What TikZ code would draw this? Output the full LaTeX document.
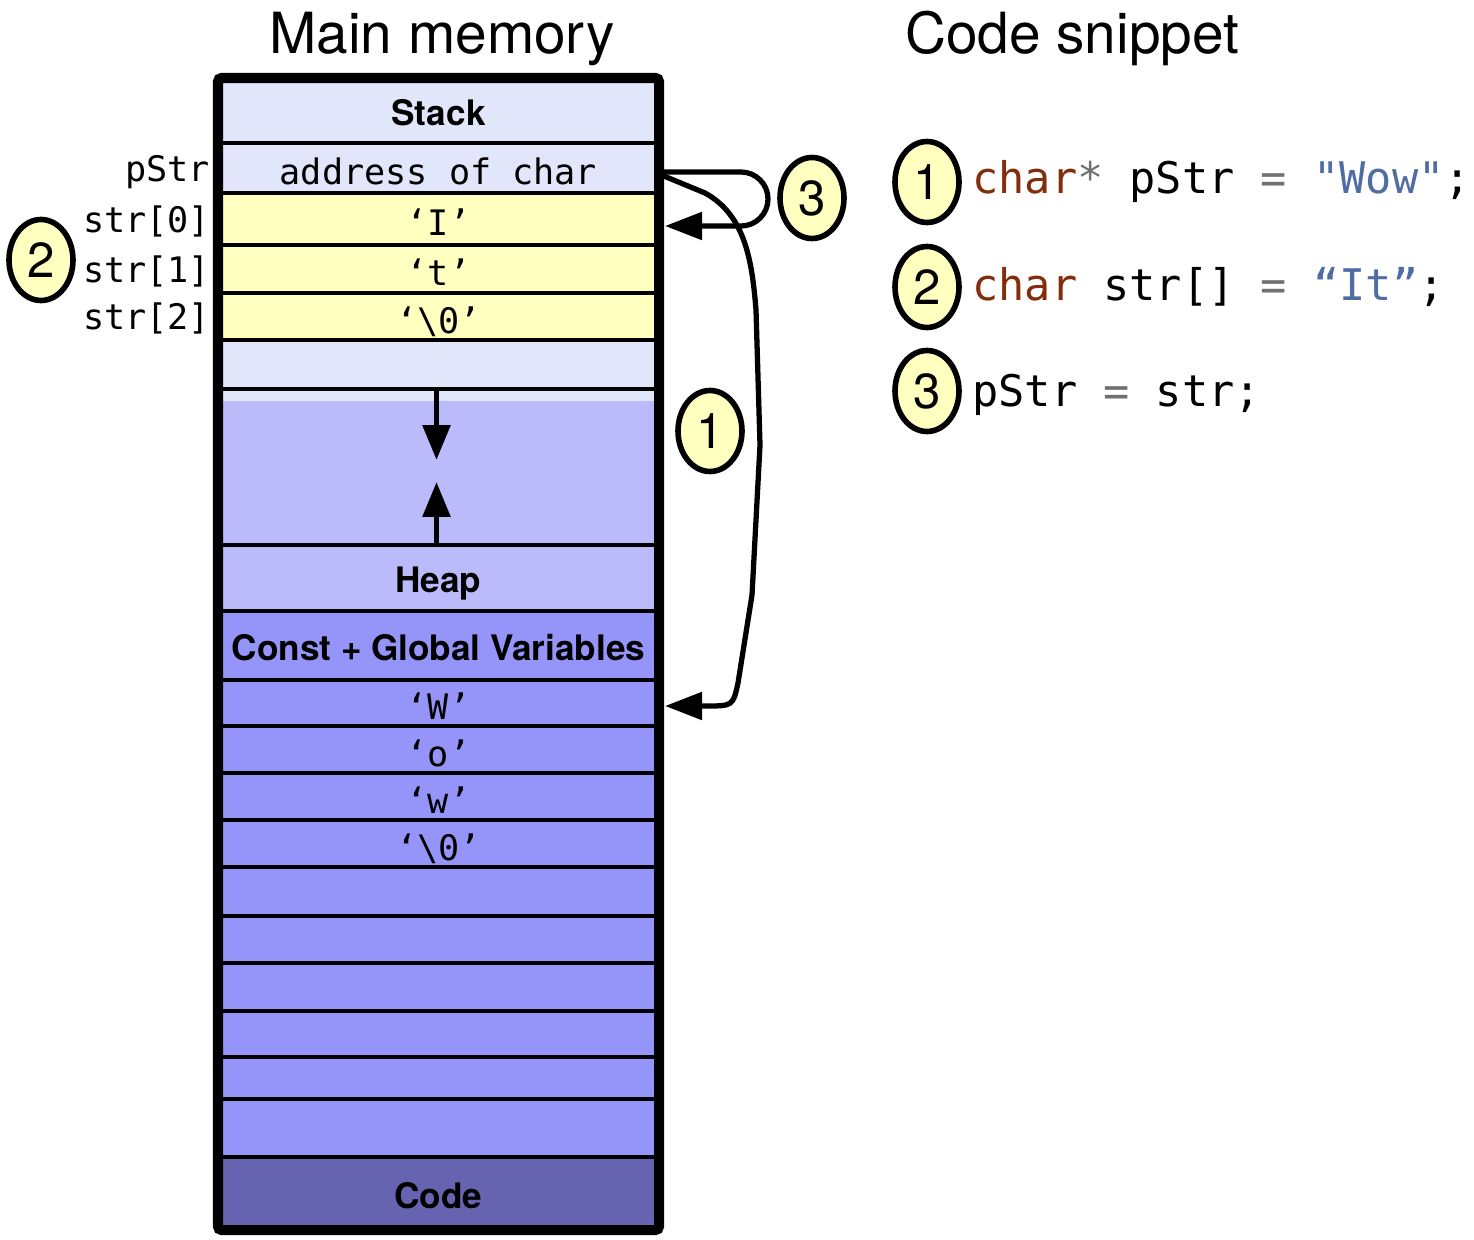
\documentclass[tikz,border=0pt]{standalone}
\usepackage{fontspec}
\setmainfont{TeX Gyre Heros}
\setmonofont{DejaVu Sans Mono}
\usetikzlibrary{positioning,arrows.meta,shapes.geometric}

\definecolor{stackc}{HTML}{E1E6FA}
\definecolor{strcellc}{HTML}{FFFFC0}
\definecolor{heapc}{HTML}{BBBBFB}
\definecolor{constc}{HTML}{9494F9}
\definecolor{codec}{HTML}{6663B0}
\definecolor{badgec}{HTML}{FFFFC0}
\definecolor{kwc}{HTML}{822D0C}
\definecolor{opc}{HTML}{707070}
\definecolor{litc}{HTML}{4F6CA3}
\def\px{0.02cm}

\begin{document}
\begin{tikzpicture}[x=0.02cm,y=-0.02cm,
  cell/.style={draw,line width=2.5pt,outer sep=0pt,inner sep=0pt,minimum width=441*\px,text height=19pt,text depth=0pt,font=\ttfamily\fontsize{20}{24}\selectfont},
  region/.style={cell,text height=17pt,font=\bfseries\fontsize{20}{24}\selectfont},
  lbl/.style={inner sep=0pt,text depth=0pt,font=\ttfamily\fontsize{20}{24}\selectfont},
  badge/.style={ellipse,draw,line width=3.2pt,fill=badgec,minimum width=1.28cm,minimum height=1.62cm,inner sep=0pt,font=\fontsize{28}{30}\selectfont},
  ptr/.style={line width=3pt,-{Triangle[length=0.74cm,width=0.54cm]}},
  growarrow/.style={line width=3.3pt,-{Triangle[length=0.7cm,width=0.54cm]}},
  codetxt/.style={anchor=base west,inner sep=0pt,font=\ttfamily\fontsize{24.8}{28}\selectfont},
  title/.style={anchor=base,inner sep=0pt,font=\fontsize{32.3}{36}\selectfont}]
  \useasboundingbox[fill=white] (0,0) rectangle (1474,1240);
  % titles
  \node[title] (mmtitle) at (442,54) {Main memory};
  \node[title] (cstitle) at (1072,54) {Code snippet};
  % stack part
  \node[region,fill=stackc,minimum height=65*\px] (stack) at (438.5,110.5) {Stack};
  \node[cell,fill=stackc,minimum height=50*\px,below=0pt of stack] (pstr) {address of char};
  \node[cell,fill=strcellc,minimum height=52*\px,below=0pt of pstr] (s0) {‘I’};
  \node[cell,fill=strcellc,minimum height=48*\px,below=0pt of s0] (s1) {‘t’};
  \node[cell,fill=strcellc,minimum height=47*\px,below=0pt of s1] (s2) {‘\textbackslash0’};
  \node[cell,fill=stackc,minimum height=49*\px,below=0pt of s2] (sfree) {};
  \node[cell,fill=heapc,minimum height=156*\px,below=0pt of sfree] (gap) {};
  \fill[stackc] ([yshift=-1.25pt]gap.north west) rectangle ([yshift=-12*\px]gap.north east);
  % heap and globals
  \node[region,fill=heapc,minimum height=66*\px,below=0pt of gap] (heap) {Heap};
  \node[region,fill=constc,minimum height=69*\px,below=0pt of heap] (const) {Const + Global Variables};
  \node[cell,fill=constc,minimum height=46*\px,below=0pt of const] (gW) {‘W’};
  \node[cell,fill=constc,minimum height=47*\px,below=0pt of gW] (go) {‘o’};
  \node[cell,fill=constc,minimum height=47*\px,below=0pt of go] (gw) {‘w’};
  \node[cell,fill=constc,minimum height=47*\px,below=0pt of gw] (gnul) {‘\textbackslash0’};
  \node[cell,fill=constc,minimum height=49*\px,below=0pt of gnul] (ge1) {};
  \node[cell,fill=constc,minimum height=47*\px,below=0pt of ge1] (ge2) {};
  \node[cell,fill=constc,minimum height=48*\px,below=0pt of ge2] (ge3) {};
  \node[cell,fill=constc,minimum height=46*\px,below=0pt of ge3] (ge4) {};
  \node[cell,fill=constc,minimum height=42*\px,below=0pt of ge4] (ge5) {};
  \node[cell,fill=constc,minimum height=58*\px,below=0pt of ge5] (ge6) {};
  \node[region,fill=codec,minimum height=73*\px,below=0pt of ge6] (code) {Code};
  \draw[line width=5.7pt,rounded corners=2pt] (stack.north west) rectangle (code.south east);
  % growth arrows
  \coordinate (stacktip) at ([xshift=-2*\px,yshift=-71*\px]gap.north);
  \coordinate (heaptip) at ([xshift=-2*\px,yshift=63*\px]heap.north);
  \draw[growarrow] ([xshift=-2*\px]gap.north) -- (stacktip);
  \draw[growarrow] ([xshift=-2*\px]heap.north) -- (heaptip);
  % variable names
  \node[lbl,left=0.15cm of pstr] (pstrlbl) {pStr};
  \node[lbl,left=0.15cm of s0] (s0lbl) {str[0]};
  \node[lbl,left=0.15cm of s1] (s1lbl) {str[1]};
  \node[lbl,left=0.15cm of s2] (s2lbl) {str[2]};
  % badges
  \node[badge] (b2) at (41,260) {2};
  \node[badge] (b3) at (812,198) {3};
  \node[badge] (b1) at (710,431) {1};
  % pointers
  \draw[ptr,rounded corners=0.54cm] ([yshift=-4*\px]pstr.east) -- ++(109,0) |- ([xshift=6*\px,yshift=-7*\px]s0.east);
  \draw[ptr] ([yshift=-6*\px]pstr.east) -- (705,193) .. controls (745,215) and (752,260) .. (756,310)
    -- (760,445) -- (752,595) -- (738,683) .. controls (733,706) .. (705,706) -- ([xshift=6*\px,yshift=-3*\px]gW.east);
  % code snippet
  \node[badge] (c1) at (927,182) {1};
  \node[badge] (c2) at (927,287) {2};
  \node[badge] (c3) at (927,391) {3};
  \node[codetxt] (l1) at (972,194) {\textcolor{kwc}{char}\textcolor{opc}{*} pStr \textcolor{opc}{=} \textcolor{litc}{"Wow"};};
  \node[codetxt] (l2) at (972,300) {\textcolor{kwc}{char} str[] \textcolor{opc}{=} \textcolor{litc}{“It”};};
  \node[codetxt] (l3) at (972,406) {pStr \textcolor{opc}{=} str;};
\end{tikzpicture}
\end{document}
